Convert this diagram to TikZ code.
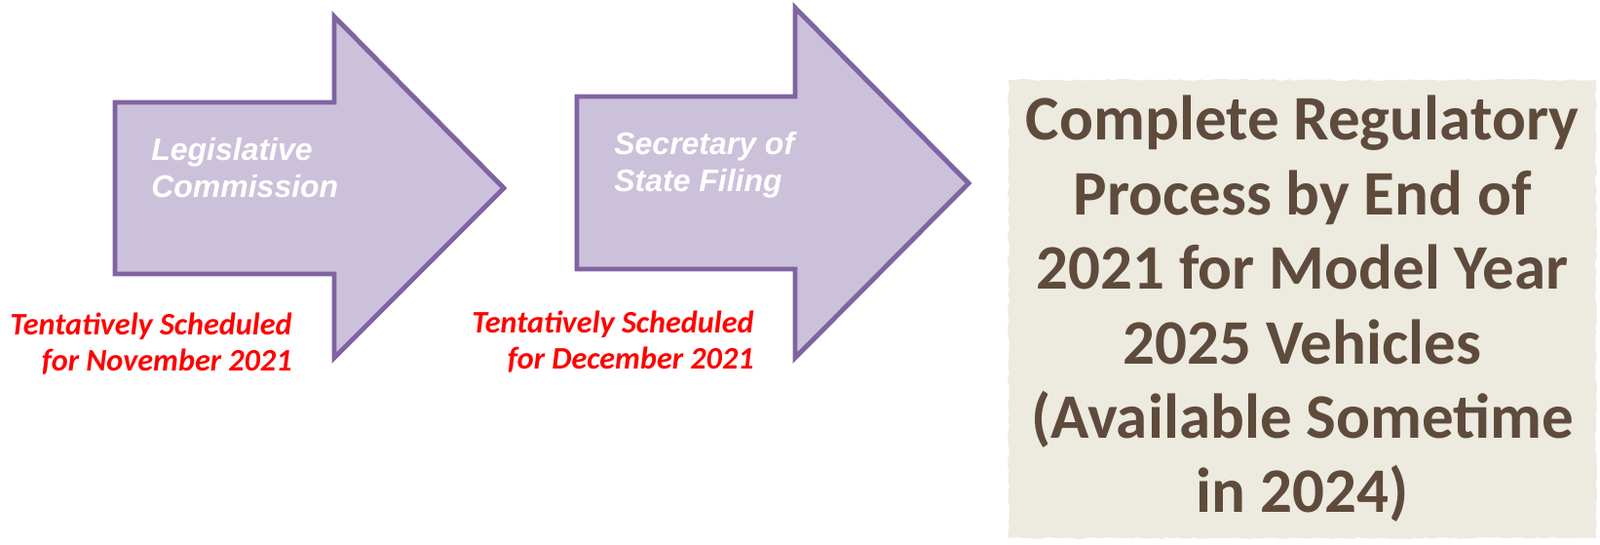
\documentclass[tikz,border=0pt]{standalone}
\usepackage{fontspec}
\setmainfont{Carlito}
\newfontfamily\arialfont{Liberation Sans}
\usetikzlibrary{decorations.pathmorphing}
\definecolor{arrowline}{HTML}{8064A2}
\definecolor{arrowfill}{HTML}{CCC1DA}
\definecolor{paper}{HTML}{EDEAE0}
\definecolor{ink}{HTML}{5E4B3C}
\tikzset{
  stage/.style={draw=arrowline, fill=arrowfill, line width=2.8pt, line join=miter},
  stagetext/.style={anchor=north west, inner sep=0pt, align=left, text=white, font=\arialfont\bfseries\itshape\fontsize{18.2}{21.6}\selectfont},
  datetext/.style={anchor=north east, inner sep=0pt, align=right, text=red, font=\bfseries\itshape\fontsize{18.3}{20.8}\selectfont},
  goal/.style={fill=paper, minimum width=12.06cm, minimum height=9.4cm, align=center, text=ink, font=\bfseries\fontsize{37}{43.5}\selectfont, decorate, decoration={random steps, segment length=3pt, amplitude=0.6pt}}
}
\begin{document}
\begin{tikzpicture}
\useasboundingbox (0,0) rectangle (32.84,11.18);
\draw [stage] (2.36,9.08) -- (6.86,9.08) -- (6.86,10.84) -- (10.34,7.32) -- (6.86,3.84) -- (6.86,5.56) -- (2.36,5.56) -- cycle;
\draw [stage] (11.84,9.20) -- (16.32,9.20) -- (16.32,11.02) -- (19.88,7.42) -- (16.32,3.84) -- (16.32,5.66) -- (11.84,5.66) -- cycle;
\node [stagetext] (legis) at (3.10,8.36) {Legislative\\Commission};
\node [stagetext] (filing) at (12.60,8.48) {Secretary of\\State Filing};
\node [datetext] (nov) at (6.00,4.76) {Tentatively Scheduled\\for November 2021};
\node [datetext] (dec) at (15.48,4.80) {Tentatively Scheduled\\for December 2021};
\node [goal] (goal) at (26.73,4.84) {Complete Regulatory\\Process by End of\\2021 for Model Year\\2025 Vehicles\\(Available Sometime\\in 2024)};
\end{tikzpicture}
\end{document}
